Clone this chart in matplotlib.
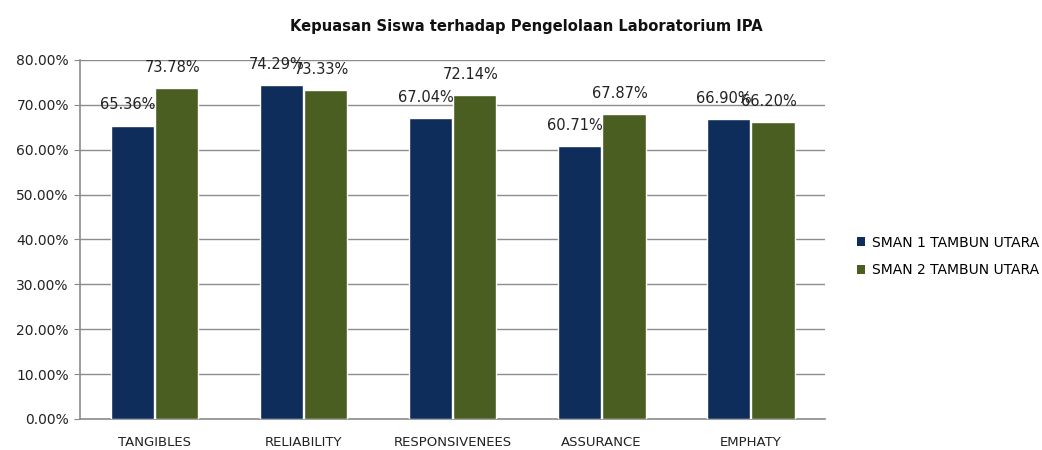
import numpy as np
import matplotlib.pyplot as plt
from matplotlib.patches import Patch

categories = ['TANGIBLES', 'RELIABILITY', 'RESPONSIVENEES', 'ASSURANCE', 'EMPHATY']
sman1 = [65.36, 74.29, 67.04, 60.71, 66.90]
sman2 = [73.78, 73.33, 72.14, 67.87, 66.20]
series_names = ['SMAN 1 TAMBUN UTARA', 'SMAN 2 TAMBUN UTARA']
colors = ['#0F2D5A', '#4B5E21']

fig = plt.figure(figsize=(10.42, 4.5), dpi=100)
ax = fig.add_axes([0.0768, 0.069, 0.715, 0.798])

x = np.arange(len(categories))
w = 0.29
b1 = ax.bar(x - w / 2 - 0.005, sman1, w, color=colors[0], edgecolor='white', linewidth=1, zorder=3)
b2 = ax.bar(x + w / 2 + 0.005, sman2, w, color=colors[1], edgecolor='white', linewidth=1, zorder=3)

for bars, vals in [(b1, sman1), (b2, sman2)]:
    for r, v in zip(bars, vals):
        ax.text(r.get_x() + r.get_width() / 2 - 0.03, v + 4.6, '%.2f%%' % v,
                ha='center', va='center', fontsize=10.5, color='#222222', zorder=4)

ax.set_xlim(-0.5, len(categories) - 0.5)
ax.set_ylim(0, 80)
ax.set_yticks(np.arange(0, 81, 10))
ax.set_yticklabels(['%.2f%%' % t for t in np.arange(0, 81, 10)], fontsize=10, color='#222222')
ax.set_xticks(x)
ax.set_xticklabels(categories, fontsize=9.5, color='#222222')
ax.tick_params(axis='x', length=0, pad=12)
ax.tick_params(axis='y', length=4, color='#888888', pad=4)
ax.grid(axis='y', color='#8c8c8c', linewidth=1, zorder=0)
for s in ['top', 'right']:
    ax.spines[s].set_visible(False)
for s in ['left', 'bottom']:
    ax.spines[s].set_color('#8c8c8c')
    ax.spines[s].set_linewidth(1.2)

fig.text(0.505, 0.94, 'Kepuasan Siswa terhadap Pengelolaan Laboratorium IPA',
         ha='center', va='center', fontsize=10.6, fontweight='bold', color='#111111')

handles = [Patch(facecolor=c) for c in colors]
fig.legend(handles, series_names, loc='center left', bbox_to_anchor=(0.81, 0.43),
           frameon=False, fontsize=10, handlelength=0.6, handleheight=0.6,
           handletextpad=0.5, labelspacing=1.0)

fig.savefig('out.png', dpi=100)
